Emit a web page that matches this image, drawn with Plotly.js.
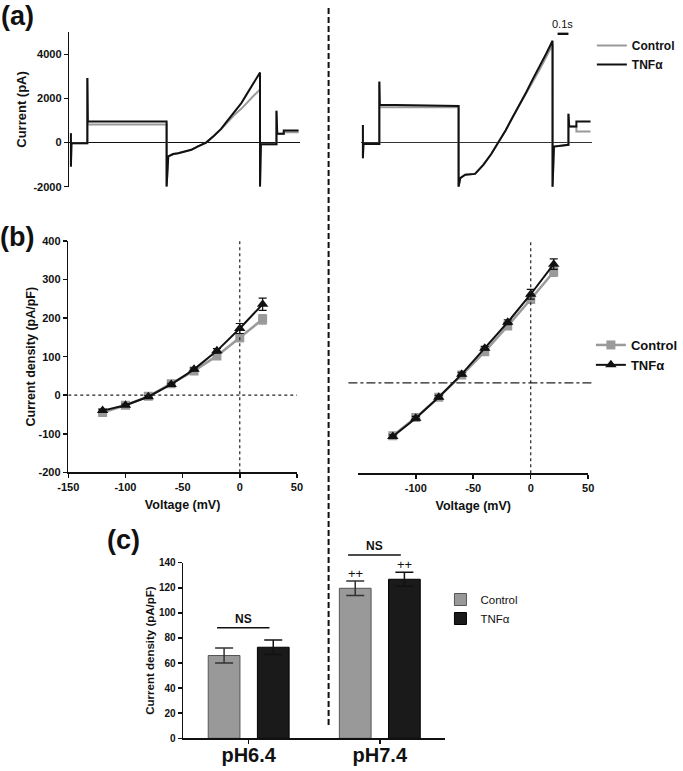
<!DOCTYPE html>
<html><head><meta charset="utf-8">
<script src="https://cdn.plot.ly/plotly-3.0.1.min.js"></script>
<style>html,body{margin:0;padding:0;background:#fff}#chart{width:683px;height:771px}</style>
</head><body><div id="chart"></div>
<script>
// ---------- Panel (a): whole-cell current traces (time in s, current in pA) ----------
const timeLeft = [0.015,0.015,0.02,0.166,0.166,0.17,0.894,0.894,0.909,0.955,1.0,1.064,1.121,1.182,1.257,1.327,1.394,1.455,1.515,1.582,1.636,1.691,1.752,1.752,1.76,1.903,1.903,1.91,1.97,1.97,2.106];
const ctrlLeft = [425,-1090,-30,-30,2920,820,820,-2000,-630,-520,-480,-400,-330,-170,0,300,600,930,1250,1540,1830,2110,2400,-2000,-80,-80,1440,395,395,470,470];
const tnfLeft  = [425,-1090,-30,-30,2920,950,950,-2000,-630,-520,-480,-400,-330,-170,0,300,620,1000,1380,1800,2240,2700,3170,-2000,-80,-80,1440,395,395,545,545];
const timeRight = [0.015,0.015,0.02,0.166,0.166,0.17,0.894,0.894,0.909,0.955,1.045,1.121,1.194,1.257,1.327,1.394,1.455,1.515,1.573,1.636,1.697,1.757,1.757,1.77,1.903,1.903,1.91,1.976,1.976,2.106];
const ctrlRight = [800,-710,-70,-70,2760,1600,1600,-2020,-1610,-1460,-1420,-1010,-520,-30,560,1180,1700,2200,2750,3290,3860,4430,-2020,-180,-100,1300,730,730,500,500];
const tnfRight  = [800,-710,-70,-70,2760,1710,1660,-2020,-1610,-1460,-1420,-1010,-520,-30,560,1180,1720,2280,2850,3420,4010,4610,-2020,-180,-100,1300,730,730,950,950];
const aTicks = [-2000,0,2000,4000];

// ---------- Panel (b): I-V curves (mV, pA/pF) ----------
const voltage = [-120,-100,-80,-60,-40,-20,0,20];
const ivCtrlLeft = [-45,-26,-3,30,63,102,149,197];
const ivCtrlLeftErr = [3,3,3,3,4,6,10,12];
const ivTnfLeft = [-40,-26,-4,28,67,115,173,236];
const ivTnfLeftErr = [3,3,3,3,4,6,13,16];
const ivCtrlRight = [-181,-119,-49,27,107,195,287,381];
const ivCtrlRightErr = [6,6,6,6,6,8,14,15];
const ivTnfRight = [-184,-121,-49,30,119,208,304,407];
const ivTnfRightErr = [6,6,6,6,6,8,17,18];
const bLeftXTicks = [-150,-100,-50,0,50];
const bLeftYTicks = [-200,-100,0,100,200,300,400];
const bRightTicks = [-100,-50,0,50];

// ---------- Panel (c): bar chart ----------
const phCats = ['pH6.4','pH7.4'];
const barCtrl = [66,119.6];
const barCtrlErr = [6,5.8];
const barTnf = [72.6,126.8];
const barTnfErr = [5.8,5.6];
const seriesNames = ['Control','TNF\u03b1'];

const F = 'Liberation Sans, Arial, sans-serif';
const GRAY = '#9a9a9a', BLACK = '#111111';
const W = 683, H = 771;
const px = v => v / W;
const py = v => 1 - v / H;
const bold = (s) => ({family: F, size: s, color: BLACK, weight: 'bold'});
const lbl = arr => arr.map(v => String(v));   // hyphen-minus labels as in the original

const traces = [
  {x: timeLeft, y: ctrlLeft, xaxis:'x', yaxis:'y', mode:'lines', name: seriesNames[0], legend:'legend', legendgroup:'ac', line:{color:GRAY, width:2}},
  {x: timeLeft, y: tnfLeft, xaxis:'x', yaxis:'y', mode:'lines', name: seriesNames[1], legend:'legend', legendgroup:'at', line:{color:BLACK, width:2}},
  {x: timeRight, y: ctrlRight, xaxis:'x2', yaxis:'y2', mode:'lines', name: seriesNames[0], showlegend:false, legendgroup:'ac', line:{color:GRAY, width:2}},
  {x: timeRight, y: tnfRight, xaxis:'x2', yaxis:'y2', mode:'lines', name: seriesNames[1], showlegend:false, legendgroup:'at', line:{color:BLACK, width:2}},

  {x: voltage, y: ivCtrlLeft, xaxis:'x3', yaxis:'y3', mode:'lines+markers', name: seriesNames[0], legend:'legend2', legendgroup:'bc',
   line:{color:GRAY, width:2.5}, marker:{symbol:'square', size:9, color:GRAY},
   error_y:{type:'data', array: ivCtrlLeftErr, color:GRAY, thickness:1.5, width:4}},
  {x: voltage, y: ivTnfLeft, xaxis:'x3', yaxis:'y3', mode:'lines+markers', name: seriesNames[1], legend:'legend2', legendgroup:'bt',
   line:{color:BLACK, width:2}, marker:{symbol:'triangle-up', size:10, color:BLACK},
   error_y:{type:'data', array: ivTnfLeftErr, color:BLACK, thickness:1.2, width:4}},
  {x: voltage, y: ivCtrlRight, xaxis:'x4', yaxis:'y4', mode:'lines+markers', name: seriesNames[0], showlegend:false, legendgroup:'bc',
   line:{color:GRAY, width:2.5}, marker:{symbol:'square', size:9, color:GRAY},
   error_y:{type:'data', array: ivCtrlRightErr, color:GRAY, thickness:1.5, width:4}},
  {x: voltage, y: ivTnfRight, xaxis:'x4', yaxis:'y4', mode:'lines+markers', name: seriesNames[1], showlegend:false, legendgroup:'bt',
   line:{color:BLACK, width:2}, marker:{symbol:'triangle-up', size:10, color:BLACK},
   error_y:{type:'data', array: ivTnfRightErr, color:BLACK, thickness:1.2, width:4}},

  {type:'bar', x: phCats, y: barCtrl, xaxis:'x5', yaxis:'y5', name: seriesNames[0], legend:'legend3',
   marker:{color:'#999999', line:{color:'#555555', width:1}},
   error_y:{type:'data', array: barCtrlErr, color:'#333333', thickness:1.5, width:9}},
  {type:'bar', x: phCats, y: barTnf, xaxis:'x5', yaxis:'y5', name: seriesNames[1], legend:'legend3',
   marker:{color:'#1a1a1a', line:{color:'#000000', width:1}},
   error_y:{type:'data', array: barTnfErr, color:'#111111', thickness:1.5, width:9}}
];

const hiddenX = {showline:false, showticklabels:false, ticks:'', showgrid:false, zeroline:false, fixedrange:true};
const tRange = [0, 233/110];
const axLine = {showline:true, linecolor:BLACK, linewidth:1.5, ticks:'outside', ticklen:4, tickwidth:1.5, tickcolor:BLACK, showgrid:false, zeroline:false};

const layout = {
  width: W, height: H, margin:{l:0, r:0, t:0, b:0},
  paper_bgcolor:'#ffffff', plot_bgcolor:'rgba(0,0,0,0)',
  font:{family:F, color:BLACK},
  showlegend:true,
  barmode:'group', bargap:0.25, bargroupgap:0.355,
  xaxis: Object.assign({}, hiddenX, {domain:[px(70), px(303)], range:tRange, anchor:'y'}),
  yaxis: Object.assign({}, axLine, {domain:[py(186.7), py(32.2)], range:[-2000,5000], anchor:'x',
          tickvals:aTicks, ticktext:lbl(aTicks),
          zeroline:true, zerolinecolor:BLACK, zerolinewidth:1,
          tickfont:bold(11), title:{text:'Current (pA)', font:bold(13), standoff:4}}),
  xaxis2: Object.assign({}, hiddenX, {domain:[px(365), px(598)], range:tRange, anchor:'y2'}),
  yaxis2: {domain:[py(186.7), py(32.2)], range:[-2000,5000], anchor:'x2', showline:false, showticklabels:false, ticks:'',
           showgrid:false, zeroline:true, zerolinecolor:'#333333', zerolinewidth:1},

  xaxis3: Object.assign({}, axLine, {domain:[px(69), px(300)], range:[-150,50], anchor:'y3',
           tickvals:bLeftXTicks, ticktext:lbl(bLeftXTicks),
           tickfont:bold(11), title:{text:'Voltage (mV)', font:bold(12.5), standoff:8}}),
  yaxis3: Object.assign({}, axLine, {domain:[py(472.3), py(241)], range:[-200,400], anchor:'x3',
           tickvals:bLeftYTicks, ticktext:lbl(bLeftYTicks),
           tickfont:bold(11), title:{text:'Current density (pA/pF)', font:bold(12.5), standoff:0}}),
  xaxis4: Object.assign({}, axLine, {domain:[px(362), px(594.3)], range:[-150,50], anchor:'y4',
           tickvals:bRightTicks, ticktext:lbl(bRightTicks),
           tickfont:bold(11), title:{text:'Voltage (mV)', font:bold(12.5), standoff:8}}),
  yaxis4: {domain:[py(473.3), py(240)], range:[-310,490], anchor:'x4', showline:false, showticklabels:false, ticks:'',
           showgrid:false, zeroline:false},

  xaxis5: Object.assign({}, axLine, {domain:[px(185), px(450)], range:[-0.5,1.5], anchor:'y5', type:'category',
           tickfont:bold(20), ticklabelstandoff:-6}),
  yaxis5: Object.assign({}, axLine, {domain:[py(738.3), py(562.7)], range:[0,140], anchor:'x5', dtick:20,
           tickfont:bold(10), title:{text:'Current density (pA/pF)', font:bold(11.5), standoff:2}}),

  legend: {x:px(598), y:py(31), xanchor:'left', yanchor:'top', bgcolor:'rgba(0,0,0,0)', font:bold(12), tracegroupgap:0},
  legend2: {x:px(597), y:py(330), xanchor:'left', yanchor:'top', bgcolor:'rgba(0,0,0,0)', font:bold(13), tracegroupgap:0},
  legend3: {x:px(445), y:py(585), xanchor:'left', yanchor:'top', bgcolor:'rgba(0,0,0,0)', font:{family:F, size:11.5, color:BLACK}, tracegroupgap:0},

  shapes: [
    // separator
    {type:'line', xref:'paper', yref:'paper', x0:px(332), x1:px(332), y0:py(725), y1:py(8), line:{color:BLACK, width:2, dash:'6px,3px'}},
    // scale bar 0.1 s
    {type:'line', xref:'x2', yref:'y2', x0:1.803, x1:1.903, y0:4930, y1:4930, line:{color:BLACK, width:2.5}},
    // (b) left reference lines
    {type:'line', xref:'x3', yref:'y3', x0:-150, x1:50, y0:0, y1:0, line:{color:'#222222', width:1.2, dash:'3px,3px'}},
    {type:'line', xref:'x3', yref:'y3', x0:0, x1:0, y0:-200, y1:400, line:{color:'#222222', width:1.2, dash:'3px,3px'}},
    // (b) right reference lines
    {type:'line', xref:'x4 domain', yref:'y4', x0:-0.043, x1:1.016, y0:0, y1:0, line:{color:'#222222', width:1.2, dash:'dashdot'}},
    {type:'line', xref:'x4', yref:'y4', x0:0, x1:0, y0:-310, y1:490, line:{color:'#222222', width:1.2, dash:'3px,3px'}},
    // (c) NS brackets
    {type:'line', xref:'x5 domain', yref:'y5 domain', x0:0.1294, x1:0.3294, y0:0.63, y1:0.63, line:{color:BLACK, width:1.5}},
    {type:'line', xref:'x5 domain', yref:'y5 domain', x0:0.629, x1:0.830, y0:1.044, y1:1.044, line:{color:BLACK, width:1.5}}
  ],
  annotations: [
    {text:'(a)', xref:'paper', yref:'paper', x:px(18), y:py(16), xanchor:'center', yanchor:'middle', showarrow:false, font:bold(27)},
    {text:'(b)', xref:'paper', yref:'paper', x:px(17), y:py(237), xanchor:'center', yanchor:'middle', showarrow:false, font:bold(27)},
    {text:'(c)', xref:'paper', yref:'paper', x:px(125), y:py(540), xanchor:'center', yanchor:'middle', showarrow:false, font:bold(27)},
    {text:'0.1s', xref:'x2', yref:'y2', x:1.853, y:5000, xanchor:'center', yanchor:'bottom', showarrow:false, font:{family:F, size:11, color:BLACK}},
    {text:'NS', xref:'x5 domain', yref:'y5 domain', x:0.2294, y:0.63, xanchor:'center', yanchor:'bottom', showarrow:false, font:bold(12)},
    {text:'NS', xref:'x5 domain', yref:'y5 domain', x:0.7295, y:1.044, xanchor:'center', yanchor:'bottom', showarrow:false, font:bold(12)},
    {text:'++', xref:'x5', yref:'y5', x:0.8125, y:barCtrl[1]+barCtrlErr[1], xanchor:'center', yanchor:'bottom', yshift:-2, showarrow:false, font:{family:F, size:13, color:BLACK}},
    {text:'++', xref:'x5', yref:'y5', x:1.1875, y:barTnf[1]+barTnfErr[1], xanchor:'center', yanchor:'bottom', yshift:-2, showarrow:false, font:{family:F, size:13, color:BLACK}}
  ]
};

Plotly.newPlot('chart', traces, layout, {displayModeBar:false, staticPlot:true});
</script>
</body></html>
